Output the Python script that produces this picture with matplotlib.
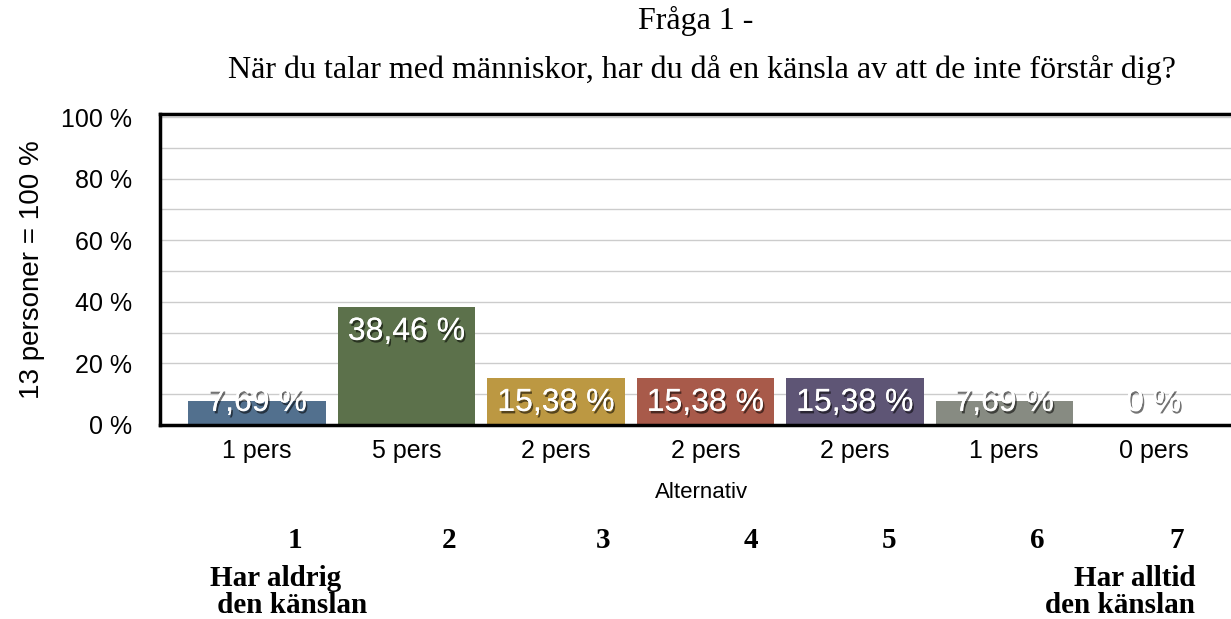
import matplotlib
matplotlib.use('Agg')
import matplotlib.pyplot as plt
import matplotlib.patheffects as pe

# data
counts = [1, 5, 2, 2, 2, 1, 0]
percent = [7.69, 38.46, 15.38, 15.38, 15.38, 7.69, 0.0]
pct_labels = ['7,69 %', '38,46 %', '15,38 %', '15,38 %', '15,38 %', '7,69 %', '0 %']
cat_labels = ['%d pers' % c for c in counts]
colors = ['#52708e', '#5c714b', '#bc9842', '#a85a4a', '#5e5575', '#878b82', '#7f7f7f']
scale_nums = ['1', '2', '3', '4', '5', '6', '7']
scale_x = [295, 449, 603, 751, 889, 1037, 1177]

W, H = 1231, 619
fig = plt.figure(figsize=(W / 100, H / 100), dpi=100)
ax = fig.add_axes([160 / W, 1 - 425 / H, 1.01 - 160 / W, (425 - 114) / H])

x = list(range(len(counts)))
ax.bar(x, percent, width=0.92, color=colors, zorder=2)
ax.set_xlim(-0.65, 6.6)
ax.set_ylim(0, 101)

ax.set_yticks([0, 20, 40, 60, 80, 100])
ax.set_yticklabels(['%d %%' % v for v in [0, 20, 40, 60, 80, 100]],
                   fontsize=18, family='Liberation Sans')
ax.set_yticks(range(10, 100, 10), minor=True)
ax.yaxis.grid(True, which='both', color='#cccccc', lw=1, zorder=0)
ax.tick_params(axis='y', which='both', length=0, pad=20)
ax.set_xticks(x)
ax.set_xticklabels(cat_labels, fontsize=18, family='Liberation Sans')
ax.tick_params(axis='x', length=0, pad=10)
ax.set_xlabel('Alternativ', fontsize=16, family='Liberation Sans', labelpad=14)
ax.set_ylabel('13 personer = 100 %', fontsize=20, family='Liberation Sans', labelpad=12)

for s in ['left', 'bottom', 'top']:
    ax.spines[s].set_linewidth(2.5)
ax.spines['right'].set_visible(False)

shadow = [pe.withSimplePatchShadow(offset=(1.2, -1.8), shadow_rgbFace='black', alpha=0.55),
          pe.Normal()]
for i, (v, lab) in enumerate(zip(percent, pct_labels)):
    ypos = max(v, 15.38) - 8.2
    ax.text(i, ypos, lab, ha='center', va='center', color='white', fontsize=23,
            family='Liberation Sans', path_effects=shadow, zorder=3)

fig.text(696 / W, 1 - 21 / H, 'Fråga 1 -', ha='center', va='center',
         fontsize=23, family='Liberation Serif')
fig.text(702 / W, 1 - 70 / H,
         'När du talar med människor, har du då en känsla av att de inte förstår dig?',
         ha='center', va='center', fontsize=23, family='Liberation Serif')

for n, xp in zip(scale_nums, scale_x):
    fig.text(xp / W, 1 - 541 / H, n, ha='center', va='center', fontsize=21,
             weight='bold', family='Liberation Serif')
fig.text(210 / W, 1 - 592 / H, 'Har aldrig\n den känslan', ha='left', va='center',
         fontsize=21, weight='bold', family='Liberation Serif', linespacing=1.02)
fig.text(1195 / W, 1 - 592 / H, 'Har alltid\nden känslan', ha='right', va='center',
         fontsize=21, weight='bold', family='Liberation Serif', linespacing=1.02,
         multialignment='right')

fig.savefig('out.png', dpi=100)
